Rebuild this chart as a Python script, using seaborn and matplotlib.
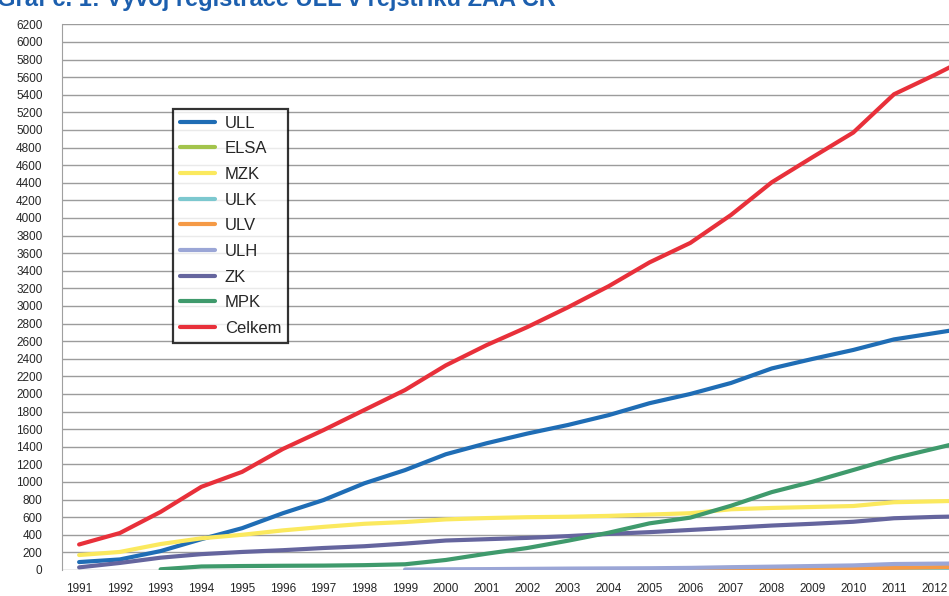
import pandas as pd
import matplotlib
matplotlib.use("Agg")
import matplotlib.pyplot as plt
import seaborn as sns

# values (2013 only continues past the cut right edge)
years = list(range(1991, 2014))
ull = [90, 120, 215, 350, 475, 645, 795, 985, 1135, 1315, 1440, 1550, 1648, 1760,
       1895, 2000, 2125, 2290, 2398, 2500, 2620, 2692, 2765]
elsa = [None] * 19 + [0, 3, 8, 12]
mzk = [170, 205, 295, 360, 400, 450, 490, 525, 545, 575, 590, 600, 605, 615,
       630, 645, 690, 705, 716, 727, 770, 780, 790]
ulk = [None] * 17 + [0, 1, 2, 3, 4, 5, 6]
ulv = [None] * 14 + [0, 2, 5, 8, 12, 18, 25, 32, 38]
ulh = [None] * 8 + [5, 8, 10, 13, 16, 18, 20, 24, 32, 38, 45, 52, 68, 72, 75]
zk = [30, 80, 140, 180, 205, 225, 250, 270, 300, 335, 350, 365, 385, 410,
      430, 455, 480, 505, 525, 548, 588, 603, 612]
mpk = [None, None, 8, 40, 45, 48, 50, 55, 65, 114, 185, 250, 333, 424,
       530, 595, 730, 885, 1003, 1136, 1270, 1380, 1490]
celkem = [290, 420, 660, 945, 1115, 1375, 1590, 1818, 2045, 2325, 2555, 2760, 2985, 3225,
          3495, 3716, 4034, 4405, 4690, 4970, 5405, 5625, 5860]

series = ["ULL", "ELSA", "MZK", "ULK", "ULV", "ULH", "ZK", "MPK", "Celkem"]
values = [ull, elsa, mzk, ulk, ulv, ulh, zk, mpk, celkem]
colors = ["#1f6db5", "#a3c44c", "#fbe95e", "#7cc8cf", "#f59a46",
          "#9ba6d6", "#65659e", "#3f9a6c", "#e8303a"]

rows = []
for name, vals in zip(series, values):
    for yr, v in zip(years, vals):
        if v is not None:
            rows.append({"Rok": yr, "Počet": v, "Knihovna": name})
df = pd.DataFrame(rows)

sns.set_style("white")
plt.rcParams["font.family"] = ["Liberation Sans", "DejaVu Sans"]

fig = plt.figure(figsize=(9.49, 5.96), dpi=100)
ax = fig.add_axes([62 / 949, 26 / 596, 887 / 949, 545.7 / 596])

sns.lineplot(data=df, x="Rok", y="Počet", hue="Knihovna", hue_order=series,
             palette=dict(zip(series, colors)), linewidth=3, ax=ax,
             estimator=None, sort=True)

ax.set_xlim(1990.58, 2012.35)
ax.set_ylim(0, 6200)
ax.set_yticks(range(0, 6201, 200))
ax.set_xticks(range(1991, 2013))
ax.set_xlabel("")
ax.set_ylabel("")
ax.yaxis.grid(True, color="#9c9c9c", linewidth=1.0)
ax.set_axisbelow(True)
for s in ["top", "right", "bottom"]:
    ax.spines[s].set_visible(False)
ax.spines["left"].set_color("#a0a0a0")
ax.tick_params(axis="both", length=0, labelsize=8.5)
ax.tick_params(axis="x", pad=9)
ax.tick_params(axis="y", pad=14)

handles, labels = ax.get_legend_handles_labels()
leg = ax.legend(handles, labels, loc="upper left",
                bbox_to_anchor=(173 / 949, 1 - 109 / 596),
                bbox_transform=fig.transFigure, fontsize=12,
                frameon=True, fancybox=False, borderpad=0.4,
                handlelength=2.1, handletextpad=0.6, labelspacing=0.64,
                borderaxespad=0)
leg.get_frame().set_edgecolor("black")
leg.get_frame().set_linewidth(1.6)
for line in leg.get_lines():
    line.set_linewidth(3)

fig.text(-3 / 949, 1 - 6 / 596, "Graf č. 1: Vývoj registrace ULL v rejstříku ZAA ČR",
         color="#1c5fae", fontsize=17, fontweight="bold", va="baseline", ha="left")

fig.savefig("out.png", dpi=100)
